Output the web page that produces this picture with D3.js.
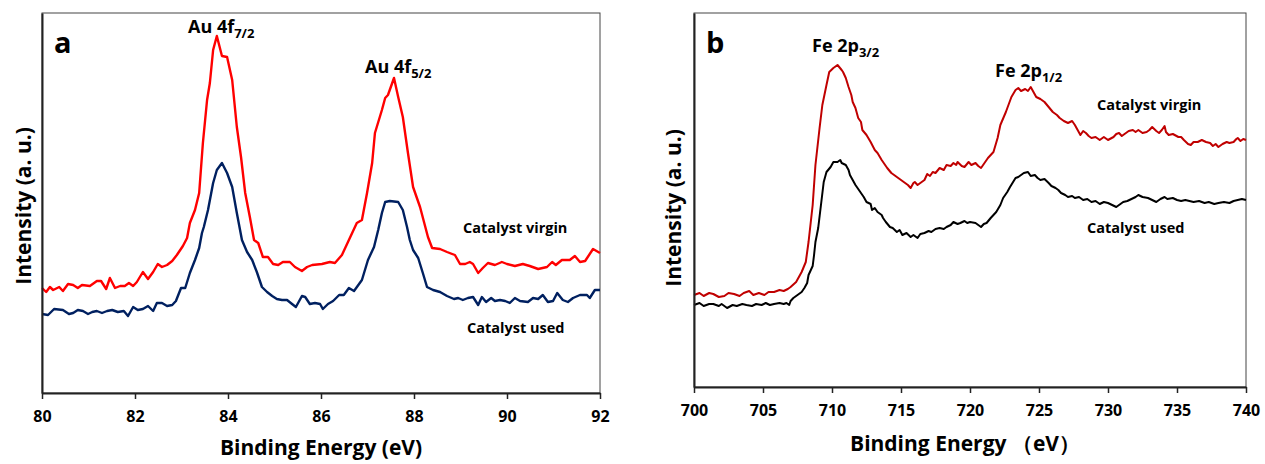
<!DOCTYPE html>
<html>
<head>
<meta charset="utf-8">
<script src="https://cdn.jsdelivr.net/npm/d3@7"></script>
<style>
  body { margin: 0; background: #fff; }
  svg text { font-family: "Open Sans", Lato, "Noto Sans", sans-serif; font-weight: bold; fill: #000; }
</style>
</head>
<body>
<svg id="chart" width="1265" height="464"></svg>
<script>
// ---------------- Panel a: Au 4f ----------------
const auVirginE = [80.00,80.09,80.17,80.24,80.37,80.45,80.56,80.67,80.77,80.86,81.03,81.18,81.27,81.38,81.46,81.57,81.68,81.78,81.87,81.96,82.04,82.17,82.28,82.39,82.49,82.58,82.69,82.80,82.90,83.03,83.12,83.18,83.29,83.38,83.46,83.55,83.61,83.68,83.76,83.87,83.98,84.09,84.19,84.28,84.37,84.47,84.56,84.65,84.75,84.86,84.97,85.08,85.18,85.33,85.44,85.59,85.70,85.81,86.02,86.19,86.30,86.45,86.58,86.77,86.88,86.99,87.10,87.16,87.31,87.38,87.44,87.57,87.66,87.76,87.87,87.98,88.13,88.30,88.39,88.56,88.71,88.88,88.99,89.10,89.20,89.27,89.38,89.48,89.59,89.74,89.89,90.00,90.17,90.34,90.49,90.67,90.86,90.97,91.05,91.18,91.35,91.46,91.57,91.68,91.85,92.00];
const auVirginI = [105,101,106,103,106,102,109,108,105,108,107,112,112,104,115,105,107,107,110,107,111,121,114,121,129,126,128,132,138,147,155,170,183,200,250,293,310,343,357,337,336,313,266,236,200,176,153,150,136,136,129,128,131,131,126,122,126,128,129,131,130,138,151,170,173,200,230,260,283,295,298,315,296,276,240,206,186,156,145,144,141,138,129,129,131,129,120,125,130,128,131,129,127,129,127,124,126,131,128,133,133,137,131,132,144,140];

const auUsedE = [80.00,80.13,80.26,80.45,80.58,80.67,80.77,80.88,80.99,81.08,81.18,81.29,81.40,81.51,81.63,81.76,81.85,81.96,82.06,82.17,82.28,82.39,82.47,82.58,82.69,82.80,82.88,82.99,83.08,83.18,83.29,83.38,83.44,83.48,83.57,83.68,83.76,83.87,83.98,84.09,84.19,84.30,84.41,84.52,84.62,84.73,84.84,84.95,85.05,85.16,85.27,85.35,85.46,85.59,85.66,85.76,85.87,85.98,86.04,86.15,86.26,86.39,86.49,86.60,86.71,86.88,87.01,87.14,87.23,87.31,87.38,87.48,87.66,87.76,87.85,87.91,87.98,88.09,88.19,88.28,88.41,88.56,88.71,88.86,88.95,89.05,89.16,89.27,89.38,89.46,89.55,89.66,89.74,89.85,89.96,90.06,90.17,90.28,90.45,90.56,90.67,90.77,90.88,90.99,91.08,91.20,91.31,91.42,91.57,91.72,91.78,91.89,92.00];
const auUsedI = [79,78,84,83,79,80,83,82,79,81,82,80,82,83,81,82,77,86,83,84,87,82,90,90,87,88,92,105,105,120,133,145,160,166,183,210,223,230,220,206,180,153,141,133,121,106,101,97,94,93,93,90,86,97,96,89,90,89,84,89,92,98,98,105,102,113,133,146,163,180,191,192,191,183,166,153,143,135,120,106,103,101,97,94,95,93,95,96,88,96,91,95,92,93,92,90,95,92,91,95,94,98,91,92,100,93,91,95,98,98,95,103,103];

const auTicks = [80, 82, 84, 86, 88, 90, 92];

// ---------------- Panel b: Fe 2p ----------------
const feVirginE = [700.0,700.4,700.7,701.1,701.4,701.8,702.2,702.5,702.9,703.3,703.6,704.0,704.3,704.7,705.1,705.4,705.8,706.2,706.5,706.8,707.0,707.4,707.8,708.1,708.3,708.6,708.8,709.1,709.3,709.6,709.8,710.1,710.4,710.7,710.8,711.0,711.2,711.4,711.5,711.7,711.9,712.1,712.2,712.5,712.8,713.1,713.3,713.6,714.0,714.3,714.6,714.8,715.1,715.3,715.5,715.7,715.9,716.0,716.2,716.5,716.7,716.9,717.1,717.3,717.5,717.8,718.1,718.3,718.6,718.8,719.0,719.1,719.4,719.6,719.9,720.1,720.4,720.6,720.8,721.1,721.3,721.7,722.0,722.2,722.6,723.0,723.3,723.5,723.7,724.0,724.2,724.4,724.6,724.8,725.1,725.4,725.7,726.0,726.3,726.5,726.8,727.1,727.4,727.6,727.8,728.0,728.2,728.4,728.6,728.8,729.1,729.4,729.7,730.0,730.4,730.6,730.8,731.0,731.3,731.5,731.8,732.0,732.2,732.5,732.8,733.0,733.2,733.5,733.7,733.9,734.1,734.2,734.4,734.7,735.1,735.3,735.5,735.8,736.0,736.2,736.5,736.8,737.1,737.4,737.6,737.8,738.0,738.3,738.6,738.8,739.1,739.3,739.4,739.6,739.8,740.0];
const feVirginI = [92,94,91,94,93,90,91,94,93,91,94,96,92,94,92,95,95,97,96,98,100,105,115,125,145,182,222,259,282,302,315,319,322,317,315,309,300,292,285,279,269,265,257,252,245,237,234,227,219,214,211,209,206,204,202,199,204,205,202,205,207,213,211,215,214,219,217,222,221,224,222,225,221,220,225,222,224,221,219,225,229,235,249,262,275,290,297,299,296,298,296,300,295,290,288,285,280,275,272,269,266,264,266,262,257,252,256,254,251,249,250,247,250,247,250,253,254,251,254,256,257,255,257,254,255,257,260,256,254,257,261,255,252,253,250,250,247,243,242,245,245,247,245,244,241,243,240,243,245,244,245,248,249,246,248,247];

const feUsedE = [700.0,700.4,700.7,701.1,701.4,701.8,702.0,702.4,702.8,703.1,703.5,703.8,704.2,704.5,704.9,705.2,705.5,705.8,706.2,706.5,706.7,706.9,707.0,707.2,707.5,707.8,708.0,708.2,708.3,708.6,708.7,708.8,709.0,709.2,709.4,709.6,709.9,710.1,710.4,710.6,710.7,711.0,711.2,711.3,711.5,711.7,711.9,712.2,712.3,712.5,712.8,712.9,713.1,713.3,713.6,713.7,713.9,714.2,714.4,714.7,714.9,715.1,715.4,715.7,715.9,716.2,716.4,716.7,717.0,717.2,717.5,717.8,718.1,718.3,718.6,718.8,719.1,719.3,719.6,719.8,720.0,720.4,720.6,720.8,721.0,721.2,721.5,721.9,722.2,722.4,722.7,722.9,723.3,723.5,723.7,723.9,724.2,724.4,724.7,724.9,725.1,725.4,725.7,725.9,726.2,726.4,726.6,726.9,727.1,727.4,727.6,727.9,728.2,728.5,728.8,729.1,729.4,729.7,730.0,730.3,730.6,730.9,731.1,731.4,731.7,732.0,732.2,732.5,732.9,733.2,733.5,733.8,734.1,734.3,734.7,735.0,735.3,735.6,735.9,736.2,736.6,737.0,737.3,737.7,738.0,738.4,738.8,739.1,739.4,739.7,740.0];
const feUsedI = [82,84,81,83,83,81,83,79,82,81,83,82,81,83,82,84,82,83,84,83,84,82,86,89,92,95,99,104,112,121,132,145,159,182,205,215,220,225,225,227,224,222,217,212,207,202,198,192,190,185,183,177,179,175,172,169,165,160,159,155,157,152,154,150,152,149,153,154,156,155,158,159,158,160,162,165,163,164,166,164,165,164,162,160,163,164,169,175,182,189,195,200,209,210,212,214,215,211,212,209,207,208,204,201,199,197,194,192,190,191,189,190,187,188,185,186,183,185,184,182,180,183,185,186,188,190,192,190,189,187,185,188,190,188,189,187,186,187,186,185,186,184,185,183,184,185,184,186,187,188,187];

const feTicks = [700, 705, 710, 715, 720, 725, 730, 735, 740];

// ---------------- drawing ----------------
const svg = d3.select("#chart");

function panel(cfg) {
  const g = svg.append("g");
  const x = d3.scaleLinear().domain(cfg.xDomain).range([cfg.left, cfg.right]);
  const y = d3.scaleLinear().domain(cfg.yDomain).range([cfg.bottom, cfg.top]);

  // frame (top / right)
  g.append("rect")
    .attr("x", cfg.left).attr("y", cfg.top)
    .attr("width", cfg.right - cfg.left).attr("height", cfg.bottom - cfg.top)
    .attr("fill", "none").attr("stroke", "#444").attr("stroke-width", 1);

  const line = d3.line().x(d => x(d[0])).y(d => y(d[1]));
  cfg.series.forEach(s => {
    g.append("path")
      .datum(s.e.map((e, i) => [e, s.v[i]]))
      .attr("fill", "none")
      .attr("stroke", s.color)
      .attr("stroke-width", s.width)
      .attr("stroke-linejoin", "round")
      .attr("d", line);
  });

  // bottom axis
  const xa = g.append("g")
    .attr("transform", `translate(0,${cfg.bottom})`)
    .call(d3.axisBottom(x).tickValues(cfg.ticks).tickSize(6).tickSizeOuter(0).tickPadding(12).tickFormat(d3.format("d")));
  xa.select(".domain").attr("stroke", "#222").attr("stroke-width", 2);
  xa.selectAll(".tick line").attr("stroke", "#222").attr("stroke-width", 1.5);
  xa.selectAll(".tick text").style("font-size", "16px").style("font-family", "'Open Sans', sans-serif").style("font-weight", "bold").attr("fill", "#000");

  // left axis (no ticks)
  const ya = g.append("g")
    .attr("transform", `translate(${cfg.left},0)`)
    .call(d3.axisLeft(y).tickValues([]).tickSizeOuter(0));
  ya.select(".domain").attr("stroke", "#222").attr("stroke-width", 2);

  // axis titles
  g.append("text")
    .attr("x", cfg.xTitleX).attr("y", cfg.xTitleY)
    .attr("text-anchor", "middle")
    .style("font-size", "21px")
    .text(cfg.xTitle);
  g.append("text")
    .attr("transform", `translate(${cfg.yTitleX},${cfg.yTitleY}) rotate(-90)`)
    .attr("text-anchor", "middle")
    .style("font-size", "21px")
    .text("Intensity (a. u.)");

  // panel letter
  g.append("text")
    .attr("x", cfg.letterX).attr("y", 53)
    .style("font-size", "29px")
    .text(cfg.letter);

  // peak labels
  cfg.peaks.forEach(p => {
    const t = g.append("text").attr("x", p.x).attr("y", p.y).style("font-size", "18px");
    t.append("tspan").text(p.main);
    t.append("tspan").attr("dy", 5).style("font-size", "13px").text(p.sub);
  });

  // series labels
  cfg.labels.forEach(l => {
    g.append("text").attr("x", l.x).attr("y", l.y).style("font-size", "14.5px").text(l.text);
  });
}

panel({
  left: 42, right: 600, top: 13, bottom: 393,
  xDomain: [80, 92], yDomain: [0, 380], ticks: auTicks,
  xTitle: "Binding Energy (eV)", xTitleX: 321, xTitleY: 455, yTitleX: 31, yTitleY: 206,
  letter: "a", letterX: 54,
  series: [
    { e: auVirginE, v: auVirginI, color: "#FF0000", width: 2.4 },
    { e: auUsedE, v: auUsedI, color: "#002060", width: 2.4 }
  ],
  peaks: [
    { main: "Au 4f", sub: "7/2", x: 188, y: 33 },
    { main: "Au 4f", sub: "5/2", x: 365, y: 73 }
  ],
  labels: [
    { text: "Catalyst virgin", x: 463, y: 233 },
    { text: "Catalyst used", x: 467, y: 333 }
  ]
});

panel({
  left: 694, right: 1246, top: 13, bottom: 387,
  xDomain: [700, 740], yDomain: [0, 374], ticks: feTicks,
  xTitle: "Binding Energy （eV）", xTitleX: 965, xTitleY: 451, yTitleX: 681, yTitleY: 208,
  letter: "b", letterX: 706,
  series: [
    { e: feVirginE, v: feVirginI, color: "#C00000", width: 2 },
    { e: feUsedE, v: feUsedI, color: "#000000", width: 2 }
  ],
  peaks: [
    { main: "Fe 2p", sub: "3/2", x: 812, y: 52 },
    { main: "Fe 2p", sub: "1/2", x: 995, y: 77 }
  ],
  labels: [
    { text: "Catalyst virgin", x: 1097, y: 110 },
    { text: "Catalyst used", x: 1087, y: 233 }
  ]
});
</script>
</body>
</html>
